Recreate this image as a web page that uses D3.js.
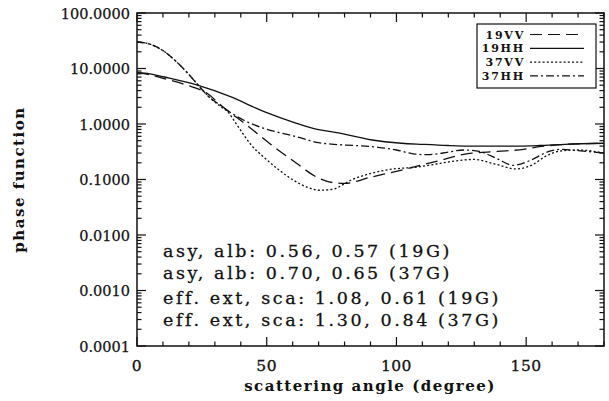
<!DOCTYPE html>
<html><head><meta charset="utf-8">
<script src="https://cdn.jsdelivr.net/npm/d3@7"></script>
<style>body{margin:0;background:#fff;} svg{display:block;}</style>
</head><body>
<script>
// ---- data (angle in degrees, phase function) ----
const seriesNames = ["19VV", "19HH", "37VV", "37HH"];
const s19VV = [[0,8.4],[5,7.7],[10,6.65],[19,5.05],[27,3.57],[33,2.05],[42,0.98],[51,0.45],[61.5,0.196],[69,0.112],[75.5,0.088],[80,0.085],[90,0.11],[102.5,0.15],[115,0.21],[127,0.29],[139,0.32],[149,0.35],[155,0.39],[162,0.42],[170,0.44],[180,0.45]];
const s19HH = [[0,8.4],[5,8.0],[10,7.1],[23,5.05],[36,3.1],[49,1.67],[61.5,1.03],[70,0.79],[77,0.70],[90,0.52],[102,0.45],[110,0.43],[120,0.41],[130,0.40],[145,0.40],[155,0.41],[165,0.43],[180,0.45]];
const s37VV = [[0,30],[5,27.5],[10,21],[15,13.5],[20,7.8],[23,5.4],[28,3.0],[32,2.1],[35,1.65],[38,1.05],[41,0.65],[44,0.42],[49,0.25],[55,0.145],[61.5,0.09],[66.5,0.07],[70,0.064],[75,0.066],[83,0.10],[96,0.148],[109,0.17],[118,0.20],[124,0.22],[130,0.23],[138,0.19],[146,0.155],[152,0.18],[158,0.27],[164,0.33],[170,0.34],[180,0.30]];
const s37HH = [[0,30],[5,27.5],[10,21],[15,13.5],[20,7.8],[23,5.4],[28,3.0],[32,2.2],[34.6,1.79],[41,1.18],[48.7,0.84],[55,0.70],[61.5,0.59],[70,0.46],[76,0.43],[84,0.41],[93,0.38],[100,0.34],[106.5,0.29],[112,0.28],[118,0.30],[126,0.34],[132,0.32],[138.6,0.24],[145,0.18],[151.5,0.22],[158,0.31],[164,0.35],[170,0.33],[180,0.30]];
const seriesData = [s19VV, s19HH, s37VV, s37HH];
const dashes = ["12,6", null, "2,2.2", "8,3,2,3"];
const xTicks = [0, 50, 100, 150];
const yTicks = [1e-4, 1e-3, 1e-2, 1e-1, 1, 10, 100];
const annotations = ["asy, alb: 0.56, 0.57 (19G)", "asy, alb: 0.70, 0.65 (37G)", "eff. ext, sca: 1.08, 0.61 (19G)", "eff. ext, sca: 1.30, 0.84 (37G)"];
const annotationBaselines = [257, 278.5, 304, 326];
const xTitle = "scattering angle (degree)";
const yTitle = "phase function";

// ---- layout ----
const W = 609, H = 401;
const L = 137, R = 604, T = 13, B = 346;
const svg = d3.select("body").append("svg").attr("width", W).attr("height", H);
const x = d3.scaleLinear().domain([0, 180]).range([L, R]);
const y = d3.scaleLog().domain([1e-4, 100]).range([B, T]);
const serif = "DejaVu Serif";
const ink = "#111";

svg.append("clipPath").attr("id","c").append("rect").attr("x",L).attr("y",T).attr("width",R-L).attr("height",B-T);

// curves
const line = d3.line().x(d => x(d[0])).y(d => y(d[1])).curve(d3.curveMonotoneX);
seriesData.forEach((s, i) => {
  svg.append("path").datum(s).attr("d", line).attr("clip-path","url(#c)")
    .attr("fill","none").attr("stroke",ink).attr("stroke-width",1.3)
    .attr("stroke-dasharray", dashes[i]);
});

// frame
svg.append("rect").attr("x",L).attr("y",T).attr("width",R-L).attr("height",B-T)
  .attr("fill","none").attr("stroke",ink).attr("stroke-width",1.5);

// ticks
const xMinor = d3.range(0, 181, 10).filter(v => !xTicks.includes(v));
const tg = svg.append("g").attr("stroke",ink).attr("stroke-width",1.2);
xTicks.forEach(v => {
  tg.append("line").attr("x1",x(v)).attr("x2",x(v)).attr("y1",B).attr("y2",B-9);
  tg.append("line").attr("x1",x(v)).attr("x2",x(v)).attr("y1",T).attr("y2",T+9);
});
xMinor.forEach(v => {
  tg.append("line").attr("x1",x(v)).attr("x2",x(v)).attr("y1",B).attr("y2",B-4.5);
  tg.append("line").attr("x1",x(v)).attr("x2",x(v)).attr("y1",T).attr("y2",T+4.5);
});
yTicks.forEach(v => {
  tg.append("line").attr("x1",L).attr("x2",L+9).attr("y1",y(v)).attr("y2",y(v));
  tg.append("line").attr("x1",R).attr("x2",R-9).attr("y1",y(v)).attr("y2",y(v));
});
const yMinor = [];
yTicks.slice(0,-1).forEach(v => { for (let k = 2; k <= 9; k++) yMinor.push(v*k); });
yMinor.forEach(v => {
  tg.append("line").attr("x1",L).attr("x2",L+4.5).attr("y1",y(v)).attr("y2",y(v));
  tg.append("line").attr("x1",R).attr("x2",R-4.5).attr("y1",y(v)).attr("y2",y(v));
});

// tick labels
svg.append("g").selectAll("text").data(xTicks).join("text")
  .attr("x", d => x(d)).attr("y", 371).attr("text-anchor","middle")
  .attr("font-family", serif).attr("font-size", 15.5).attr("letter-spacing", 0.5).attr("fill",ink)
  .attr("stroke", ink).attr("stroke-width", 0.3)
  .text(d => d);
svg.append("g").selectAll("text").data(yTicks).join("text")
  .attr("x", 130).attr("y", d => y(d) + 5.5).attr("text-anchor","end")
  .attr("font-family", serif).attr("font-size", 14.5).attr("fill",ink)
  .attr("stroke", ink).attr("stroke-width", 0.25)
  .text(d => d3.format(".4f")(d));

// axis titles
svg.append("text").attr("x", 370).attr("y", 391).attr("text-anchor","middle")
  .attr("font-family", serif).attr("font-weight","bold").attr("font-size", 15).attr("letter-spacing", 1.5).attr("fill",ink)
  .text(xTitle);
svg.append("text").attr("transform", `translate(24,${(T+B)/2}) rotate(-90)`).attr("text-anchor","middle")
  .attr("font-family", serif).attr("font-weight","bold").attr("font-size", 15).attr("letter-spacing", 1.5).attr("fill",ink)
  .text(yTitle);

// annotations
annotations.forEach((t, i) => {
  svg.append("text").attr("x", 163).attr("y", annotationBaselines[i])
    .attr("font-family", serif).attr("font-size", 17.5).attr("letter-spacing", 2.6).attr("fill",ink)
    .attr("stroke", ink).attr("stroke-width", 0.3).text(t);
});

// legend
svg.append("rect").attr("x",477).attr("y",24).attr("width",119).attr("height",64)
  .attr("fill","#fff").attr("stroke",ink).attr("stroke-width",1.2);
seriesNames.forEach((n, i) => {
  const yy = 34.5 + i*13.8;
  svg.append("text").attr("x",525).attr("y",yy+4).attr("text-anchor","end")
    .attr("font-family", serif).attr("font-weight","bold").attr("font-size",11).attr("letter-spacing",1.8).attr("fill",ink).text(n);
  svg.append("line").attr("x1",530).attr("x2",584).attr("y1",yy).attr("y2",yy)
    .attr("stroke",ink).attr("stroke-width",1.2).attr("stroke-dasharray", dashes[i]);
});
</script>
</body></html>
